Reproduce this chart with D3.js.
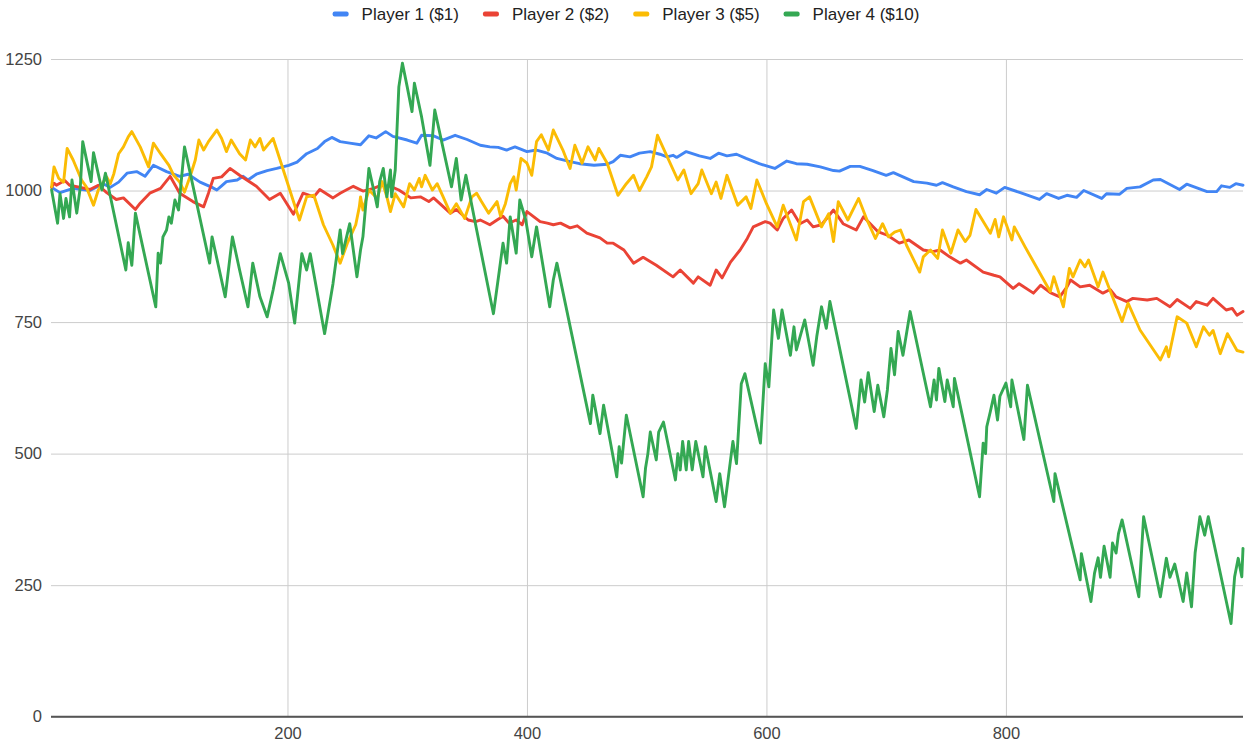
<!DOCTYPE html>
<html>
<head>
<meta charset="utf-8">
<script src="https://cdn.jsdelivr.net/npm/d3@7"></script>
<style>
  html, body { margin: 0; padding: 0; background: #fff; }
  svg { display: block; }
  text { font-family: "Liberation Sans", Arial, sans-serif; }
</style>
</head>
<body>
<svg id="chart" width="1250" height="749"></svg>
<script>
// ---------------- DATA ----------------
const seriesNames = ["Player 1 ($1)", "Player 2 ($2)", "Player 3 ($5)", "Player 4 ($10)"];
const seriesColors = ["#4285F4", "#EA4335", "#FBBC04", "#34A853"];
const yTicks = [0, 250, 500, 750, 1000, 1250];
const xTicks = [200, 400, 600, 800];

// [round, bankroll] vertices
const player1 = [[3,1006],[10,996],[21,1004],[35,1000],[46,1013],[52,1006],[59,1016],[66,1033],[74,1036],[81,1027],[88,1048],[99,1036],[110,1027],[117,1031],[127,1016],[137,1006],[141,1001],[145,1009],[149,1017],[158,1020],[163,1027],[167,1020],[174,1031],[183,1038],[191,1042],[201,1048],[208,1054],[216,1070],[225,1080],[231,1093],[237,1101],[244,1093],[252,1090],[261,1087],[268,1104],[274,1100],[282,1112],[288,1103],[300,1096],[308,1090],[312,1105],[322,1104],[330,1096],[340,1105],[350,1097],[361,1086],[369,1083],[376,1082],[383,1077],[390,1083],[400,1074],[408,1077],[417,1071],[425,1061],[436,1055],[444,1051],[456,1048],[467,1050],[472,1055],[478,1067],[486,1064],[494,1071],[503,1074],[511,1069],[517,1064],[522,1067],[525,1063],[533,1074],[544,1066],[553,1061],[560,1071],[567,1066],[575,1069],[583,1061],[594,1051],[607,1042],[617,1056],[625,1051],[634,1050],[645,1045],[656,1038],[661,1037],[670,1046],[678,1046],[689,1038],[700,1029],[706,1034],[723,1017],[734,1014],[742,1010],[747,1015],[756,1007],[767,998],[778,992],[784,1002],[792,995],[799,1006],[812,996],[828,983],[834,994],[844,985],[851,991],[859,987],[865,1000],[880,985],[884,994],[895,993],[901,1004],[912,1007],[923,1020],[929,1021],[945,1002],[951,1012],[968,998],[976,998],[980,1009],[987,1006],[992,1013],[998,1010]];

const player2 = [[3,1006],[5,1014],[7,1010],[14,1019],[18,1010],[27,1006],[35,1002],[42,1010],[49,996],[57,983],[63,986],[73,964],[77,976],[85,995],[94,1004],[102,1027],[110,995],[121,979],[130,969],[134,995],[138,1023],[145,1026],[152,1042],[160,1029],[174,1008],[185,983],[194,995],[205,955],[213,995],[222,988],[227,1002],[238,986],[244,995],[249,1001],[255,1008],[263,999],[272,1004],[278,1010],[286,1008],[293,1001],[303,986],[311,988],[318,979],[322,986],[336,957],[341,964],[351,944],[357,941],[361,944],[369,935],[375,944],[380,951],[385,938],[391,944],[396,935],[400,960],[411,941],[417,938],[422,935],[428,938],[436,929],[442,933],[450,919],[461,910],[467,900],[472,900],[481,887],[489,862],[497,873],[508,858],[522,836],[528,849],[539,824],[543,836],[553,820],[558,849],[563,834],[570,864],[578,887],[584,909],[589,931],[599,941],[603,938],[609,925],[614,947],[621,963],[628,937],[634,944],[639,931],[646,935],[656,963],[664,937],[675,925],[681,950],[693,922],[701,915],[711,900],[719,906],[731,887],[739,884],[745,887],[753,874],[762,862],[767,868],[781,845],[790,839],[795,836],[806,814],[811,823],[823,805],[829,820],[837,806],[845,798],[851,817],[854,830],[862,817],[870,820],[881,805],[887,812],[892,798],[901,789],[906,795],[918,792],[926,795],[937,779],[943,793],[954,776],[959,789],[968,782],[973,795],[984,773],[989,776],[993,763],[998,770]];

const player3 = [[3,1007],[5,1045],[9,1023],[13,1016],[16,1080],[21,1058],[28,1020],[32,1007],[38,972],[42,1001],[49,1026],[52,1013],[55,1032],[59,1070],[63,1083],[67,1102],[70,1112],[77,1083],[84,1045],[88,1090],[94,1070],[101,1048],[105,1029],[110,1016],[114,997],[119,1029],[123,1058],[126,1096],[130,1077],[134,1093],[141,1115],[145,1099],[149,1074],[153,1096],[160,1070],[165,1058],[169,1096],[173,1083],[177,1099],[180,1077],[188,1099],[210,944],[216,988],[222,991],[230,935],[238,896],[244,862],[250,900],[254,920],[257,935],[260,969],[261,988],[263,963],[268,1001],[275,985],[279,1017],[283,988],[286,960],[290,994],[297,969],[302,1013],[306,1001],[310,1023],[312,1007],[315,1029],[321,1001],[325,1013],[330,988],[336,957],[341,975],[348,947],[354,988],[358,995],[362,979],[368,957],[375,979],[378,951],[382,975],[386,1013],[389,1026],[391,1001],[395,1061],[400,1052],[404,1029],[408,1093],[412,1106],[418,1077],[422,1115],[430,1077],[436,1042],[440,1086],[446,1052],[451,1083],[457,1058],[460,1080],[467,1052],[476,991],[483,1013],[489,1029],[494,1000],[500,1026],[504,1045],[509,1105],[526,1020],[531,1039],[537,994],[543,1013],[546,1039],[554,994],[558,1016],[562,985],[567,1029],[576,972],[583,988],[587,966],[592,1020],[600,975],[609,931],[614,972],[625,906],[631,979],[636,988],[646,931],[652,956],[656,903],[660,979],[668,944],[677,985],[684,944],[691,909],[697,937],[702,912],[707,921],[712,925],[717,896],[728,845],[731,874],[737,887],[743,871],[747,925],[754,881],[760,925],[766,903],[770,915],[775,964],[787,919],[791,945],[794,912],[798,950],[805,906],[807,931],[816,893],[837,808],[840,836],[848,779],[853,852],[856,836],[862,868],[866,855],[869,868],[877,817],[881,845],[897,751],[902,786],[912,735],[929,678],[934,703],[936,684],[943,760],[951,748],[959,703],[965,741],[970,725],[973,734],[979,690],[983,715],[985,728],[993,696],[998,693]];

const player4 = [[3,1001],[8,938],[10,994],[13,947],[15,985],[18,950],[20,1020],[24,957],[27,1007],[29,1093],[36,1017],[38,1072],[45,1001],[48,1033],[65,849],[67,901],[70,858],[73,957],[90,779],[92,881],[94,862],[96,912],[99,925],[101,950],[103,938],[106,982],[109,963],[114,1083],[135,862],[137,912],[148,798],[151,855],[154,912],[160,849],[167,779],[171,862],[177,798],[183,760],[188,811],[194,880],[201,824],[206,748],[212,880],[216,849],[219,880],[231,728],[238,823],[244,925],[246,880],[252,937],[258,836],[261,887],[263,912],[268,1042],[272,1001],[275,969],[277,1017],[280,1042],[283,988],[286,1039],[287,988],[290,1039],[293,1197],[296,1242],[300,1197],[304,1150],[306,1204],[312,1140],[319,1048],[323,1153],[337,1007],[341,1061],[345,982],[349,1029],[358,925],[372,766],[377,849],[380,900],[383,862],[386,950],[391,881],[394,982],[399,944],[404,874],[408,931],[419,779],[422,830],[425,862],[453,557],[455,611],[461,538],[464,592],[475,456],[477,513],[479,482],[483,573],[497,418],[499,472],[501,500],[503,541],[508,488],[510,541],[514,560],[524,450],[526,500],[528,469],[530,523],[533,469],[535,523],[538,469],[541,523],[547,456],[549,513],[558,409],[561,462],[565,399],[568,452],[572,523],[575,481],[579,633],[582,652],[595,520],[599,671],[602,627],[606,773],[610,719],[613,773],[620,687],[623,741],[625,697],[632,754],[639,668],[642,722],[646,779],[650,738],[653,789],[675,548],[679,640],[682,598],[685,654],[690,580],[693,630],[698,570],[701,621],[704,700],[707,650],[710,732],[714,687],[720,770],[737,589],[740,640],[742,602],[744,662],[749,599],[751,640],[756,589],[757,643],[778,418],[781,520],[783,500],[784,551],[787,580],[790,611],[793,564],[795,609],[800,634],[804,589],[805,640],[815,527],[818,630],[840,409],[841,462],[862,260],[863,310],[871,219],[874,273],[877,302],[879,265],[882,324],[887,265],[889,330],[892,311],[894,348],[897,374],[911,228],[915,380],[929,228],[934,301],[937,265],[941,290],[948,219],[951,273],[955,209],[958,311],[962,380],[966,345],[969,380],[988,177],[991,266],[994,301],[997,266],[998,320]];

const seriesData = [player1, player2, player3, player4];

// ---------------- CHART ----------------
const svg = d3.select("#chart");
const plot = { left: 51, right: 1243, top: 59, bottom: 716.7 };

const x = d3.scaleLinear().domain([2.5, 998]).range([plot.left, plot.right]);
const y = d3.scaleLinear().domain([0, 1250]).range([plot.bottom, plot.top]);

// horizontal gridlines + y labels
const yAxis = d3.axisLeft(y).tickValues(yTicks).tickSize(-(plot.right - plot.left)).tickPadding(9).tickFormat(d3.format("d"));
const gy = svg.append("g").attr("transform", `translate(${plot.left},0)`).call(yAxis);
gy.select(".domain").remove();
gy.selectAll(".tick line").attr("stroke", "#cccccc").attr("stroke-width", 1);
gy.selectAll(".tick text").attr("fill", "#444").attr("font-size", "16.5px");

// vertical gridlines + x labels
const xAxis = d3.axisBottom(x).tickValues(xTicks).tickSize(-(plot.bottom - plot.top)).tickPadding(11).tickFormat(d3.format("d"));
const gx = svg.append("g").attr("transform", `translate(0,${plot.bottom})`).call(xAxis);
gx.select(".domain").remove();
gx.selectAll(".tick line").attr("stroke", "#cccccc").attr("stroke-width", 1);
gx.selectAll(".tick text").attr("fill", "#444").attr("font-size", "16.5px");

// baseline
svg.append("line")
  .attr("x1", plot.left).attr("x2", plot.right)
  .attr("y1", y(0)).attr("y2", y(0))
  .attr("stroke", "#555").attr("stroke-width", 2);

// lines
const line = d3.line().x(d => x(d[0])).y(d => y(d[1]));
svg.append("g").selectAll("path")
  .data(seriesData)
  .join("path")
  .attr("d", line)
  .attr("fill", "none")
  .attr("stroke", (d, i) => seriesColors[i])
  .attr("stroke-width", 2.9)
  .attr("stroke-linejoin", "round")
  .attr("stroke-linecap", "round");

// legend
const legend = svg.append("g");
const items = legend.selectAll("g").data(seriesNames).join("g");
items.append("rect")
  .attr("width", 16).attr("height", 5).attr("rx", 2).attr("y", -2.5)
  .attr("fill", (d, i) => seriesColors[i]);
items.append("text")
  .attr("x", 29).attr("dy", "0.35em")
  .attr("font-size", "17px").attr("fill", "#222")
  .text(d => d);
let cx = 0;
const offs = [];
items.each(function() {
  offs.push(cx);
  const w = d3.select(this).select("text").node().getComputedTextLength();
  cx += 29 + w + 24;
});
const totalW = cx - 24;
const startX = 626 - totalW / 2;
items.attr("transform", (d, i) => `translate(${startX + offs[i]},14)`);
</script>
</body>
</html>
